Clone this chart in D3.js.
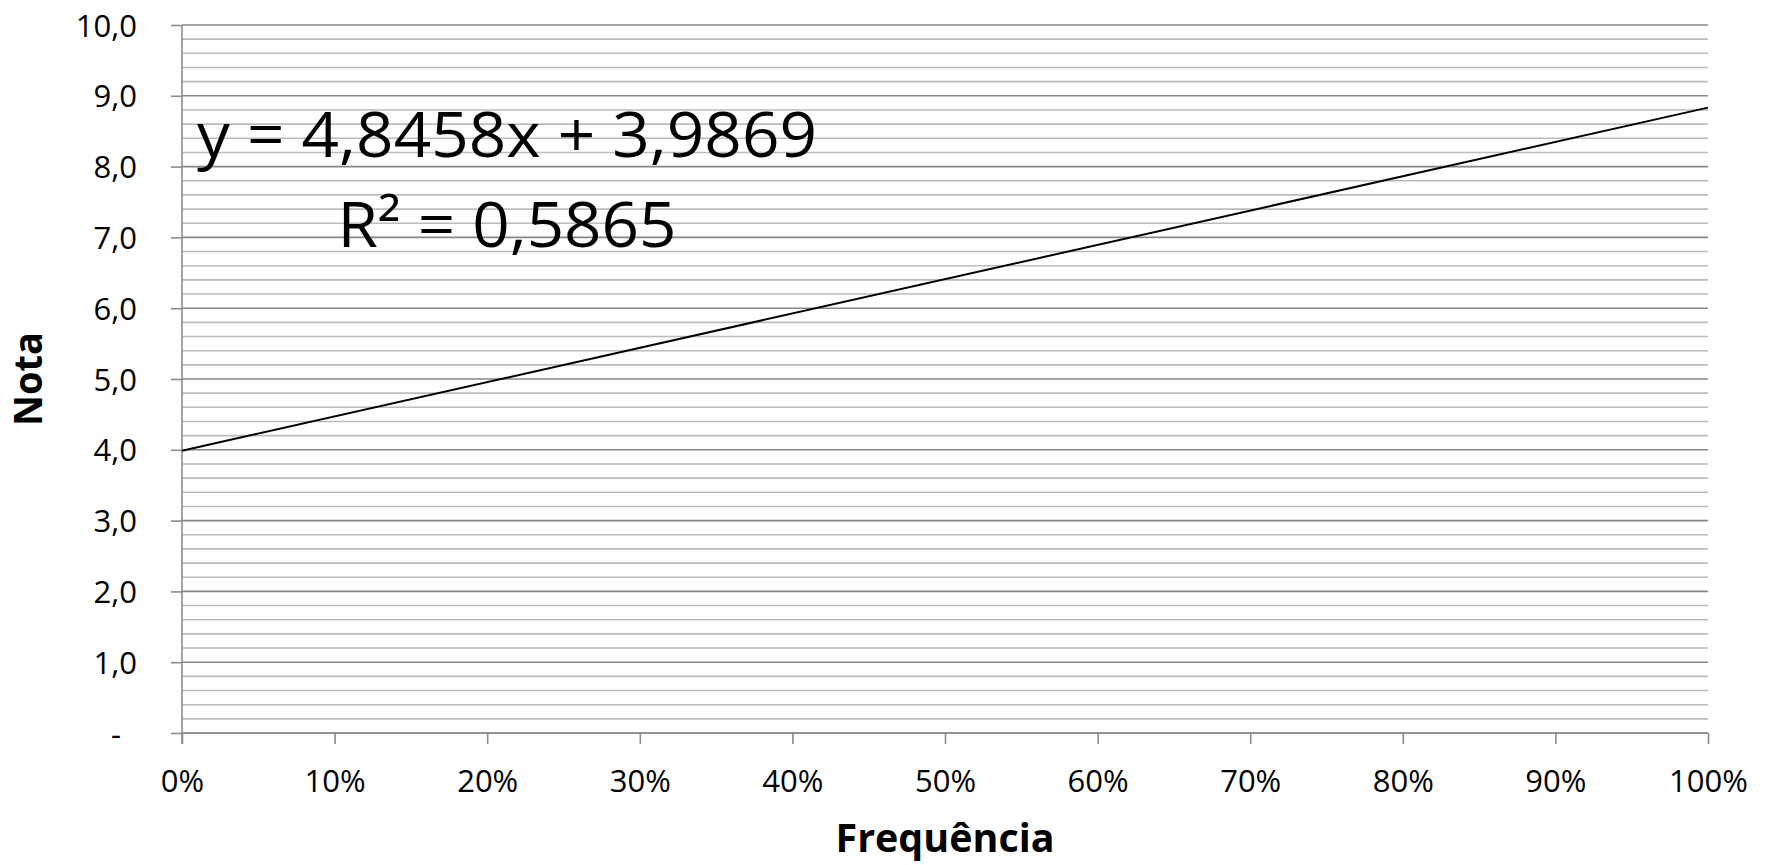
<!DOCTYPE html>
<html>
<head>
<meta charset="utf-8">
<script src="https://cdn.jsdelivr.net/npm/d3@7"></script>
<style>
  html, body { margin: 0; padding: 0; background: #ffffff; }
  svg { display: block; }
</style>
</head>
<body>
<svg id="chart" width="1767" height="865"></svg>
<script>
// ---- data ----
const yTickValues = [0, 1, 2, 3, 4, 5, 6, 7, 8, 9, 10];
const yTickLabels = ["-", "1,0", "2,0", "3,0", "4,0", "5,0", "6,0", "7,0", "8,0", "9,0", "10,0"];
const xTickValues = [0, 0.1, 0.2, 0.3, 0.4, 0.5, 0.6, 0.7, 0.8, 0.9, 1.0];
const xTickLabels = ["0%", "10%", "20%", "30%", "40%", "50%", "60%", "70%", "80%", "90%", "100%"];
const trendX = [0, 1];
const trendY = [3.9869, 8.8327];
const equationText = "y = 4,8458x + 3,9869";
const r2Text = "R² = 0,5865";
const xTitle = "Frequência";
const yTitle = "Nota";

// ---- layout ----
const svg = d3.select("#chart");
const pLeft = 182, pRight = 1708, pTop = 25, pBottom = 733;
const x = d3.scaleLinear().domain([0, 1]).range([pLeft, pRight]);
const y = d3.scaleLinear().domain([0, 10]).range([pBottom, pTop]);
const font = "'Open Sans', 'DejaVu Sans', sans-serif";

// minor gridlines every 0.2
const minor = d3.range(0, 10.001, 0.2).filter(v => Math.abs(v - Math.round(v)) > 1e-6);
svg.append("g").selectAll("line").data(minor).join("line")
  .attr("x1", pLeft).attr("x2", pRight)
  .attr("y1", d => y(d)).attr("y2", d => y(d))
  .attr("stroke", "#bcbcbc").attr("stroke-width", 1.6);

// major gridlines
svg.append("g").selectAll("line").data(yTickValues).join("line")
  .attr("x1", pLeft).attr("x2", pRight)
  .attr("y1", d => y(d)).attr("y2", d => y(d))
  .attr("stroke", "#878787").attr("stroke-width", 1.6);

// y axis
const yAxis = d3.axisLeft(y).tickValues(yTickValues).tickSize(11).tickSizeOuter(0)
  .tickFormat((d, i) => yTickLabels[i]);
const gy = svg.append("g").attr("transform", `translate(${pLeft},0)`).call(yAxis);
gy.select(".domain").attr("stroke", "#8c8c8c").attr("stroke-width", 1.6)
  .attr("d", `M0,${pTop}V${pBottom + 11}`);
gy.selectAll(".tick line").attr("stroke", "#8c8c8c").attr("stroke-width", 1.6);
gy.selectAll(".tick text")
  .attr("x", (d, i) => i === 0 ? -61 : -45)
  .attr("dy", "0.36em")
  .attr("fill", "#000")
  .style("font-family", font).style("font-size", "31px");

// x axis
const xAxis = d3.axisBottom(x).tickValues(xTickValues).tickSize(11).tickSizeOuter(0)
  .tickFormat((d, i) => xTickLabels[i]);
const gx = svg.append("g").attr("transform", `translate(0,${pBottom})`).call(xAxis);
gx.select(".domain").attr("stroke", "#8c8c8c").attr("stroke-width", 1.6)
  .attr("d", `M${pLeft},0H${pRight}`);
gx.selectAll(".tick line").attr("stroke", "#8c8c8c").attr("stroke-width", 1.6);
gx.selectAll(".tick text")
  .attr("y", 59).attr("dy", 0)
  .attr("fill", "#000")
  .style("font-family", font).style("font-size", "31px");

// trend line
const line = d3.line().x(d => x(d[0])).y(d => y(d[1]));
svg.append("path")
  .datum(trendX.map((v, i) => [v, trendY[i]]))
  .attr("d", line)
  .attr("fill", "none").attr("stroke", "#000").attr("stroke-width", 2);

// equation labels
svg.append("text").text(equationText)
  .attr("x", 507).attr("y", 157).attr("text-anchor", "middle")
  .attr("textLength", 620).attr("lengthAdjust", "spacingAndGlyphs")
  .style("font-family", font).style("font-size", "63px").attr("fill", "#000");
svg.append("text").text(r2Text)
  .attr("x", 507).attr("y", 247).attr("text-anchor", "middle")
  .attr("textLength", 339).attr("lengthAdjust", "spacingAndGlyphs")
  .style("font-family", font).style("font-size", "63px").attr("fill", "#000");

// axis titles
svg.append("text").text(xTitle)
  .attr("x", (pLeft + pRight) / 2).attr("y", 852).attr("text-anchor", "middle")
  .attr("textLength", 219).attr("lengthAdjust", "spacingAndGlyphs")
  .style("font-family", font).style("font-size", "39px").style("font-weight", "bold").attr("fill", "#000");
svg.append("text").text(yTitle)
  .attr("transform", `translate(42,379) rotate(-90)`).attr("text-anchor", "middle")
  .attr("textLength", 94).attr("lengthAdjust", "spacingAndGlyphs")
  .style("font-family", font).style("font-size", "39px").style("font-weight", "bold").attr("fill", "#000");
</script>
</body>
</html>
